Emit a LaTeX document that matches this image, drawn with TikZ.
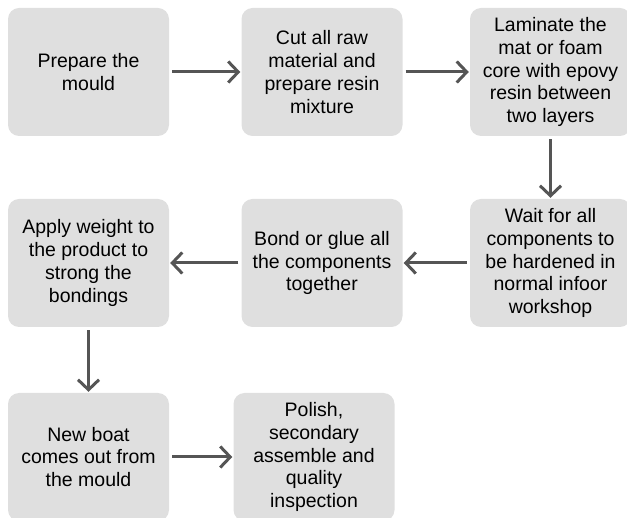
\documentclass[tikz,border=0pt]{standalone}
\usepackage{fontspec}
\setmainfont{Liberation Sans}
\usetikzlibrary{arrows.meta}
\definecolor{boxgray}{HTML}{DFDFDF}
\definecolor{arrowgray}{HTML}{555555}

\begin{document}
\begin{tikzpicture}[x=1pt, y=-1pt,
  stepbox/.style = {fill=boxgray, rounded corners=11pt, minimum width=161pt, minimum height=128pt, align=center, inner sep=0pt, font=\fontsize{19.5}{22.7}\selectfont},
  flow/.style = {draw=arrowgray, line width=3pt, -{Straight Barb[length=10pt, width=21pt, line width=3pt]}, shorten <=3pt, shorten >=1pt}]
\useasboundingbox (0,0) rectangle (627,518);

\node[stepbox] (prep) at (88.5,72) {Prepare the\\mould};
\node[stepbox] (cut) at (322,72) {Cut all raw\\material and\\prepare resin\\mixture};
\node[stepbox] (lam) at (550.5,72) {Laminate the\\mat or foam\\core with epovy\\resin between\\two layers};
\node[stepbox] (wait) at (550.5,263) {Wait for all\\components to\\be hardened in\\normal infoor\\workshop};
\node[stepbox] (bond) at (322,263) {Bond or glue all\\the components\\together};
\node[stepbox] (weight) at (88.5,263) {Apply weight to\\the product to\\strong the\\bondings};
\node[stepbox] (boat) at (88.5,457) {New boat\\comes out from\\the mould};
\node[stepbox] (polish) at (314,457) {Polish,\\secondary\\assemble and\\quality\\inspection};

\draw[flow] (prep) -- (cut);
\draw[flow] (cut) -- (lam);
\draw[flow] (lam) -- (wait);
\draw[flow] (wait) -- (bond);
\draw[flow] (bond) -- (weight);
\draw[flow] (weight) -- (boat);
\draw[flow] (boat) -- (polish);
\end{tikzpicture}
\end{document}
